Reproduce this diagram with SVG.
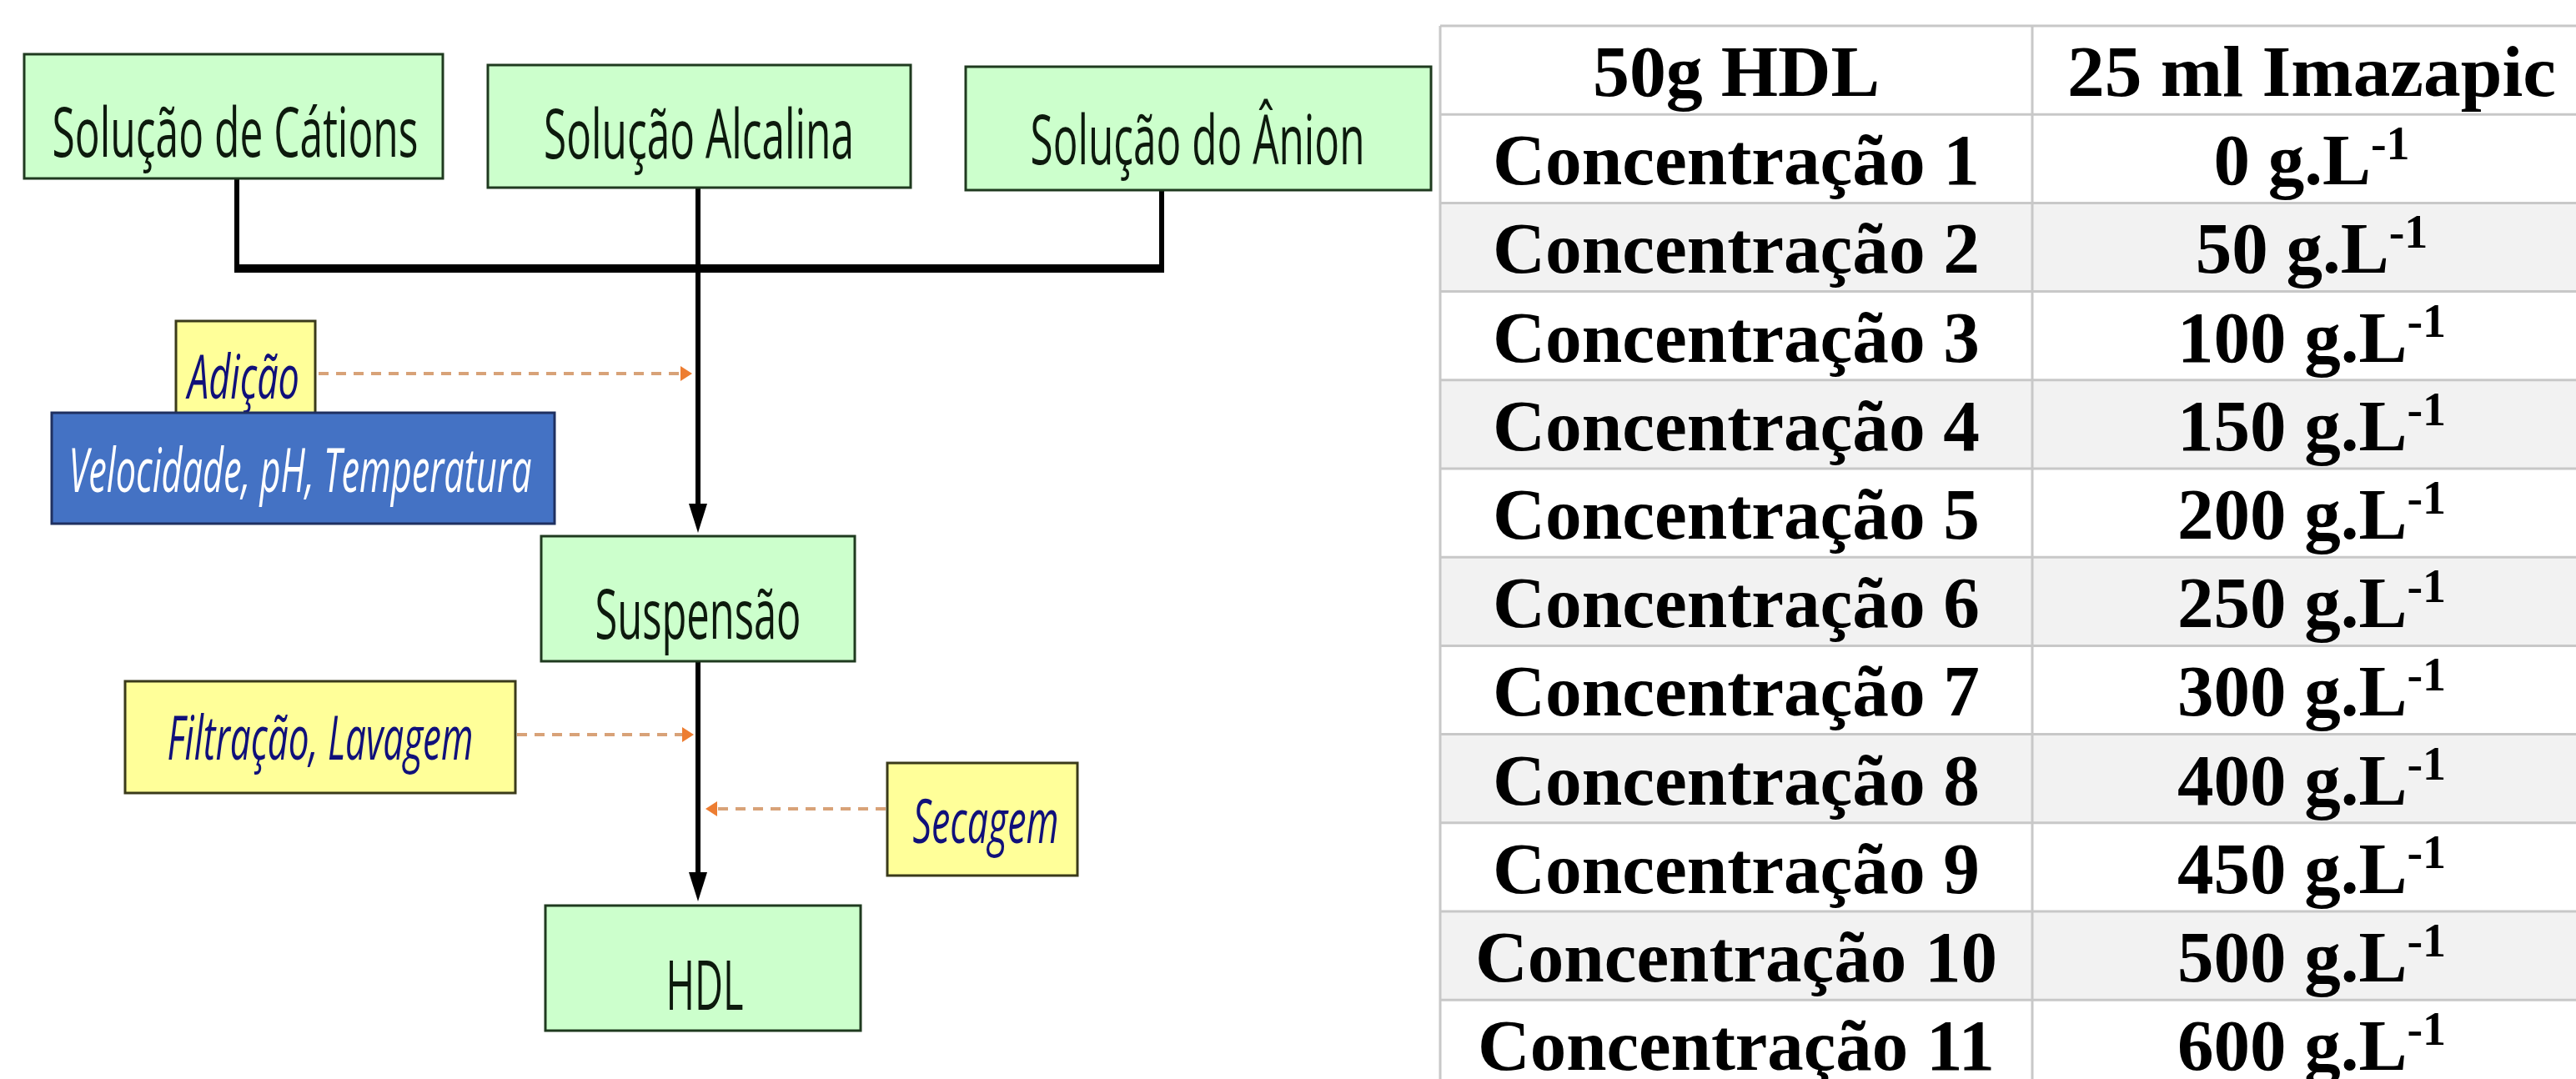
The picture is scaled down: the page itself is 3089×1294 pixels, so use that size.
<svg xmlns="http://www.w3.org/2000/svg" width="3089" height="1294" viewBox="0 0 3089 1294">
<style>
.g{fill:#ccffcc;stroke:#1f3a1f;stroke-width:3}
.y{fill:#ffff99;stroke:#3a3a1a;stroke-width:3}
.b{fill:#4472c4;stroke:#1f3060;stroke-width:3}
.lbl{font-family:"Open Sans","Noto Sans",sans-serif;font-size:82px;fill:#0d1a0d;text-anchor:middle}
.it{font-family:"Open Sans","Noto Sans",sans-serif;font-style:italic;font-size:73px;fill:#10107a;text-anchor:middle}
.wt{font-family:"Open Sans","Noto Sans",sans-serif;font-style:italic;font-size:73px;fill:#ffffff;text-anchor:middle}
.solid{stroke:#000;fill:none}
.dash{stroke:#d8a278;stroke-width:4;stroke-dasharray:12 9;fill:none}
.tb{font-family:"Liberation Serif","Times New Roman",serif;font-weight:bold;font-size:87px;fill:#000;text-anchor:middle}
.sup{font-size:56px}
.grid{stroke:#c8c8c8;stroke-width:3}
.shade{fill:#f2f2f2}
</style>

<g id="connectors">
<line class="solid" x1="284" y1="214" x2="284" y2="322" stroke-width="6"/>
<line class="solid" x1="1393" y1="228" x2="1393" y2="322" stroke-width="6"/>
<line class="solid" x1="281" y1="322" x2="1396" y2="322" stroke-width="10"/>
<line class="solid" x1="837" y1="225" x2="837" y2="606" stroke-width="6"/>
<path d="M826,604 L848,604 L837,639 z" fill="#000"/>
<line class="solid" x1="837" y1="793" x2="837" y2="1048" stroke-width="6"/>
<path d="M826,1046 L848,1046 L837,1081 z" fill="#000"/>
<line class="dash" x1="382" y1="448" x2="818" y2="448"/>
<path d="M816,439 L830,448 L816,457 z" fill="#ed7d31"/>
<line class="dash" x1="620" y1="881" x2="820" y2="881"/>
<path d="M818,872 L832,881 L818,890 z" fill="#ed7d31"/>
<line class="dash" x1="1062" y1="970" x2="858" y2="970"/>
<path d="M860,961 L846,970 L860,979 z" fill="#ed7d31"/>
</g>

<g id="node-cations">
<rect class="g" x="29" y="65" width="502" height="149"/>
<text class="lbl" x="282" y="188" textLength="439" lengthAdjust="spacingAndGlyphs">Solução de Cátions</text>
</g>
<g id="node-alcalina">
<rect class="g" x="585" y="78" width="507" height="147"/>
<text class="lbl" x="838" y="190" textLength="372" lengthAdjust="spacingAndGlyphs">Solução Alcalina</text>
</g>
<g id="node-anion">
<rect class="g" x="1158" y="80" width="558" height="148"/>
<text class="lbl" x="1436" y="197" textLength="401" lengthAdjust="spacingAndGlyphs">Solução do Ânion</text>
</g>
<g id="node-adicao">
<rect class="y" x="211" y="385" width="167" height="130"/>
<text class="it" x="292" y="478" textLength="134" lengthAdjust="spacingAndGlyphs">Adição</text>
</g>
<g id="node-velocidade">
<rect class="b" x="62" y="495" width="603" height="133"/>
<text class="wt" x="360" y="590" textLength="555" lengthAdjust="spacingAndGlyphs">Velocidade, pH, Temperatura</text>
</g>
<g id="node-suspensao">
<rect class="g" x="649" y="643" width="376" height="150"/>
<text class="lbl" x="837" y="766" textLength="247" lengthAdjust="spacingAndGlyphs">Suspensão</text>
</g>
<g id="node-filtracao">
<rect class="y" x="150" y="817" width="468" height="134"/>
<text class="it" x="384" y="911" textLength="367" lengthAdjust="spacingAndGlyphs">Filtração, Lavagem</text>
</g>
<g id="node-secagem">
<rect class="y" x="1064" y="915" width="228" height="135"/>
<text class="it" x="1182" y="1011" textLength="175" lengthAdjust="spacingAndGlyphs">Secagem</text>
</g>
<g id="node-hdl">
<rect class="g" x="654" y="1086" width="378" height="150"/>
<text class="lbl" x="845" y="1211" textLength="93" lengthAdjust="spacingAndGlyphs">HDL</text>
</g>

<g id="table">
<rect class="shade" x="1727" y="243.4" width="1362" height="106.2"/>
<rect class="shade" x="1727" y="455.8" width="1362" height="106.2"/>
<rect class="shade" x="1727" y="668.2" width="1362" height="106.2"/>
<rect class="shade" x="1727" y="880.6" width="1362" height="106.2"/>
<rect class="shade" x="1727" y="1093" width="1362" height="106.2"/>
<g class="grid">
<line x1="1727" y1="31" x2="3089" y2="31"/>
<line x1="1727" y1="137.2" x2="3089" y2="137.2"/>
<line x1="1727" y1="243.4" x2="3089" y2="243.4"/>
<line x1="1727" y1="349.6" x2="3089" y2="349.6"/>
<line x1="1727" y1="455.8" x2="3089" y2="455.8"/>
<line x1="1727" y1="562" x2="3089" y2="562"/>
<line x1="1727" y1="668.2" x2="3089" y2="668.2"/>
<line x1="1727" y1="774.4" x2="3089" y2="774.4"/>
<line x1="1727" y1="880.6" x2="3089" y2="880.6"/>
<line x1="1727" y1="986.8" x2="3089" y2="986.8"/>
<line x1="1727" y1="1093" x2="3089" y2="1093"/>
<line x1="1727" y1="1199.2" x2="3089" y2="1199.2"/>
<line x1="1727" y1="31" x2="1727" y2="1294"/>
<line x1="2437" y1="31" x2="2437" y2="1294"/>
</g>
<text class="tb" x="2082" y="115" textLength="344" lengthAdjust="spacingAndGlyphs">50g HDL</text>
<text class="tb" x="2772" y="115" textLength="586" lengthAdjust="spacingAndGlyphs">25 ml Imazapic</text>
<text class="tb" x="2082" y="221.2" textLength="584" lengthAdjust="spacingAndGlyphs">Concentração 1</text>
<text class="tb" x="2082" y="327.4" textLength="584" lengthAdjust="spacingAndGlyphs">Concentração 2</text>
<text class="tb" x="2082" y="433.6" textLength="584" lengthAdjust="spacingAndGlyphs">Concentração 3</text>
<text class="tb" x="2082" y="539.8" textLength="584" lengthAdjust="spacingAndGlyphs">Concentração 4</text>
<text class="tb" x="2082" y="646" textLength="584" lengthAdjust="spacingAndGlyphs">Concentração 5</text>
<text class="tb" x="2082" y="752.2" textLength="584" lengthAdjust="spacingAndGlyphs">Concentração 6</text>
<text class="tb" x="2082" y="858.4" textLength="584" lengthAdjust="spacingAndGlyphs">Concentração 7</text>
<text class="tb" x="2082" y="964.6" textLength="584" lengthAdjust="spacingAndGlyphs">Concentração 8</text>
<text class="tb" x="2082" y="1070.8" textLength="584" lengthAdjust="spacingAndGlyphs">Concentração 9</text>
<text class="tb" x="2082" y="1177" textLength="626" lengthAdjust="spacingAndGlyphs">Concentração 10</text>
<text class="tb" x="2082" y="1283.2" textLength="620" lengthAdjust="spacingAndGlyphs">Concentração 11</text>
<text class="tb" x="2772" y="221.2">0 g.L<tspan class="sup" dy="-30">-1</tspan></text>
<text class="tb" x="2772" y="327.4">50 g.L<tspan class="sup" dy="-30">-1</tspan></text>
<text class="tb" x="2772" y="433.6">100 g.L<tspan class="sup" dy="-30">-1</tspan></text>
<text class="tb" x="2772" y="539.8">150 g.L<tspan class="sup" dy="-30">-1</tspan></text>
<text class="tb" x="2772" y="646">200 g.L<tspan class="sup" dy="-30">-1</tspan></text>
<text class="tb" x="2772" y="752.2">250 g.L<tspan class="sup" dy="-30">-1</tspan></text>
<text class="tb" x="2772" y="858.4">300 g.L<tspan class="sup" dy="-30">-1</tspan></text>
<text class="tb" x="2772" y="964.6">400 g.L<tspan class="sup" dy="-30">-1</tspan></text>
<text class="tb" x="2772" y="1070.8">450 g.L<tspan class="sup" dy="-30">-1</tspan></text>
<text class="tb" x="2772" y="1177">500 g.L<tspan class="sup" dy="-30">-1</tspan></text>
<text class="tb" x="2772" y="1283.2">600 g.L<tspan class="sup" dy="-30">-1</tspan></text>
</g>
</svg>
